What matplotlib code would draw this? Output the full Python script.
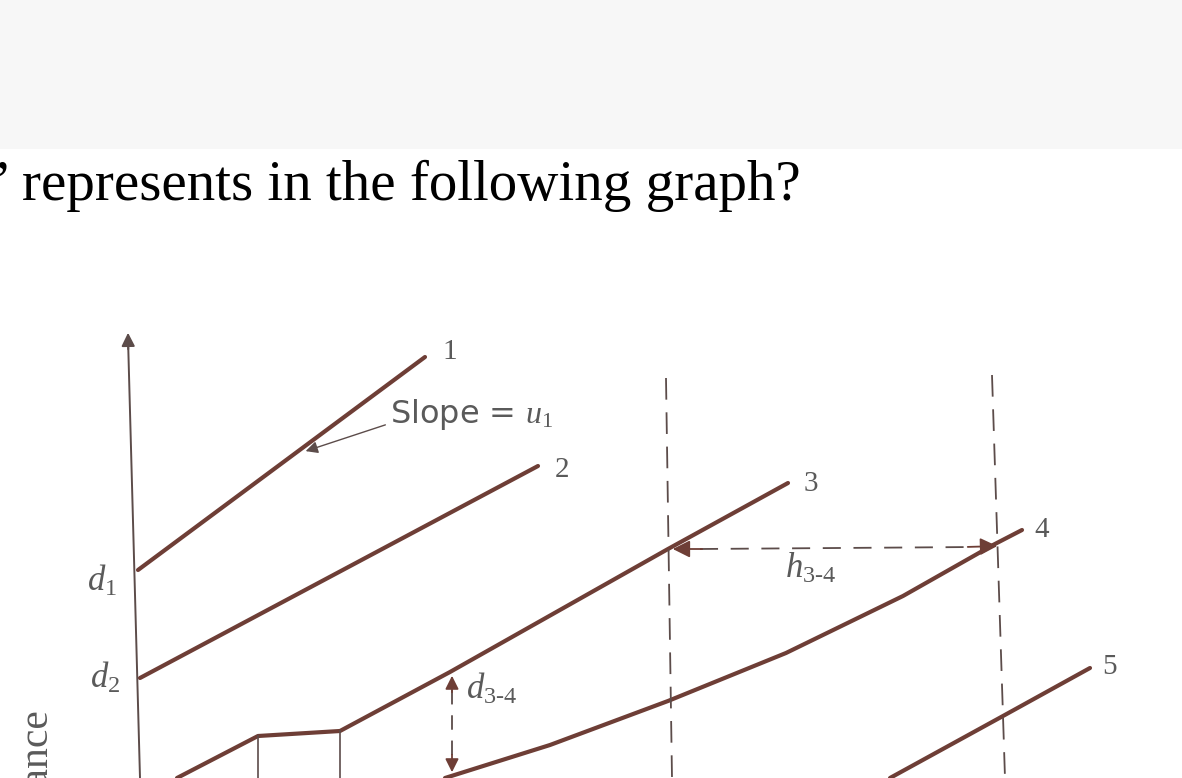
"""Time-space diagram: headway and spacing between vehicle trajectories."""

import matplotlib.pyplot as plt

plt.rcParams["mathtext.fontset"] = "custom"
plt.rcParams["mathtext.it"] = "Liberation Serif:italic"
plt.rcParams["mathtext.rm"] = "Liberation Serif"

# diagram coordinates (x = time, y = distance, image-like frame, y grows downward)
AXIS_X = [140, 128]
AXIS_Y = [778, 338]

TRAJ_1_X = [138, 425]
TRAJ_1_Y = [570, 357]
TRAJ_2_X = [140, 538]
TRAJ_2_Y = [678, 466]
TRAJ_3_X = [177, 258, 340, 450, 668, 788]
TRAJ_3_Y = [778, 736, 731, 672, 549, 483]
TRAJ_4_X = [445, 550, 668, 786, 903, 993, 1022]
TRAJ_4_Y = [778, 745, 701, 653, 596, 545, 530]
TRAJ_5_X = [890, 1003, 1090]
TRAJ_5_Y = [778, 716, 668]

STOP_X = [258, 340]
STOP_TOP = [736, 731]

DASH_X_TOP = [666, 992]
DASH_X_BOT = [672, 1005]
DASH_TOP = [378, 375]

LABELS = ["1", "2", "3", "4", "5"]
LABEL_POS = [(442, 352), (555, 470), (804, 484), (1034, 530), (1102, 667)]

LINE_C = "#6e3e36"
THIN_C = "#5c4c4a"
TEXT_C = "#5a5a5a"

fig = plt.figure(figsize=(11.82, 7.78), dpi=100)
ax = fig.add_axes([0, 0, 1, 1])
ax.set_xlim(0, 1182)
ax.set_ylim(778, 0)
ax.axis("off")

# page header band and question text
ax.axhspan(0, 149, color="#f7f7f7", lw=0)
ax.text(-7, 186, "\u2019 represents in the following graph?", fontsize=41,
        family="Liberation Serif", color="black", va="center", ha="left")

# distance axis
ax.plot(AXIS_X, AXIS_Y, color=THIN_C, lw=1.4, solid_capstyle="butt")
ax.annotate("", xy=(AXIS_X[1], AXIS_Y[1] - 8), xytext=(AXIS_X[1] + 0.3, AXIS_Y[1] + 14),
            arrowprops=dict(arrowstyle="-|>", color=THIN_C, lw=1.4,
                            mutation_scale=20))
ax.text(36, 708, "Distance", rotation=90, fontsize=30, family="Liberation Serif",
        color=TEXT_C, ha="center", va="top")
ax.text(102, 580, "$d_1$", fontsize=25, color=TEXT_C, ha="center", va="center")
ax.text(105, 677, "$d_2$", fontsize=25, color=TEXT_C, ha="center", va="center")

# vehicle trajectories
for xs, ys in [(TRAJ_1_X, TRAJ_1_Y), (TRAJ_2_X, TRAJ_2_Y), (TRAJ_3_X, TRAJ_3_Y),
               (TRAJ_4_X, TRAJ_4_Y), (TRAJ_5_X, TRAJ_5_Y)]:
    ax.plot(xs, ys, color=LINE_C, lw=3.0, solid_capstyle="round",
            solid_joinstyle="round")

for lab, (lx, ly) in zip(LABELS, LABEL_POS):
    ax.text(lx, ly, lab, fontsize=21, family="Liberation Serif", color=TEXT_C,
            ha="left", va="center")

# stopped vehicle markers
for sx, st in zip(STOP_X, STOP_TOP):
    ax.plot([sx, sx], [st, 778], color=THIN_C, lw=1.2)

# dashed time references
for xt, xb, yt in zip(DASH_X_TOP, DASH_X_BOT, DASH_TOP):
    ax.plot([xt, xb], [yt, 778], color=THIN_C, lw=1.3, dashes=(12, 7))

# slope annotation
ax.annotate("", xy=(303, 452), xytext=(388, 424),
            arrowprops=dict(arrowstyle="-|>", color=THIN_C, lw=1.0,
                            mutation_scale=18))
ax.text(390, 414, "Slope = $u_1$", fontsize=23, family="DejaVu Sans",
        color=TEXT_C, ha="left", va="center")

# headway h3-4
ax.plot([700, 975], [549, 547], color=THIN_C, lw=1.3, dashes=(10, 7))
ax.annotate("", xy=(670, 549), xytext=(705, 549),
            arrowprops=dict(arrowstyle="-|>", color=LINE_C, lw=1.3,
                            mutation_scale=26))
ax.annotate("", xy=(1000, 546), xytext=(965, 547),
            arrowprops=dict(arrowstyle="-|>", color=LINE_C, lw=1.3,
                            mutation_scale=26))
ax.text(785, 568, "$h_{3\u20104}$", fontsize=25, color=TEXT_C, ha="left", va="center")

# spacing d3-4
ax.plot([452, 452], [690, 755], color=THIN_C, lw=1.3, dashes=(8, 6))
ax.annotate("", xy=(452, 673), xytext=(452, 695),
            arrowprops=dict(arrowstyle="-|>", color=LINE_C, lw=1.3,
                            mutation_scale=20))
ax.annotate("", xy=(452, 775), xytext=(452, 752),
            arrowprops=dict(arrowstyle="-|>", color=LINE_C, lw=1.3,
                            mutation_scale=20))
ax.text(466, 688, "$d_{3\u20104}$", fontsize=25, color=TEXT_C, ha="left", va="center")

fig.savefig("out.png", dpi=100)
